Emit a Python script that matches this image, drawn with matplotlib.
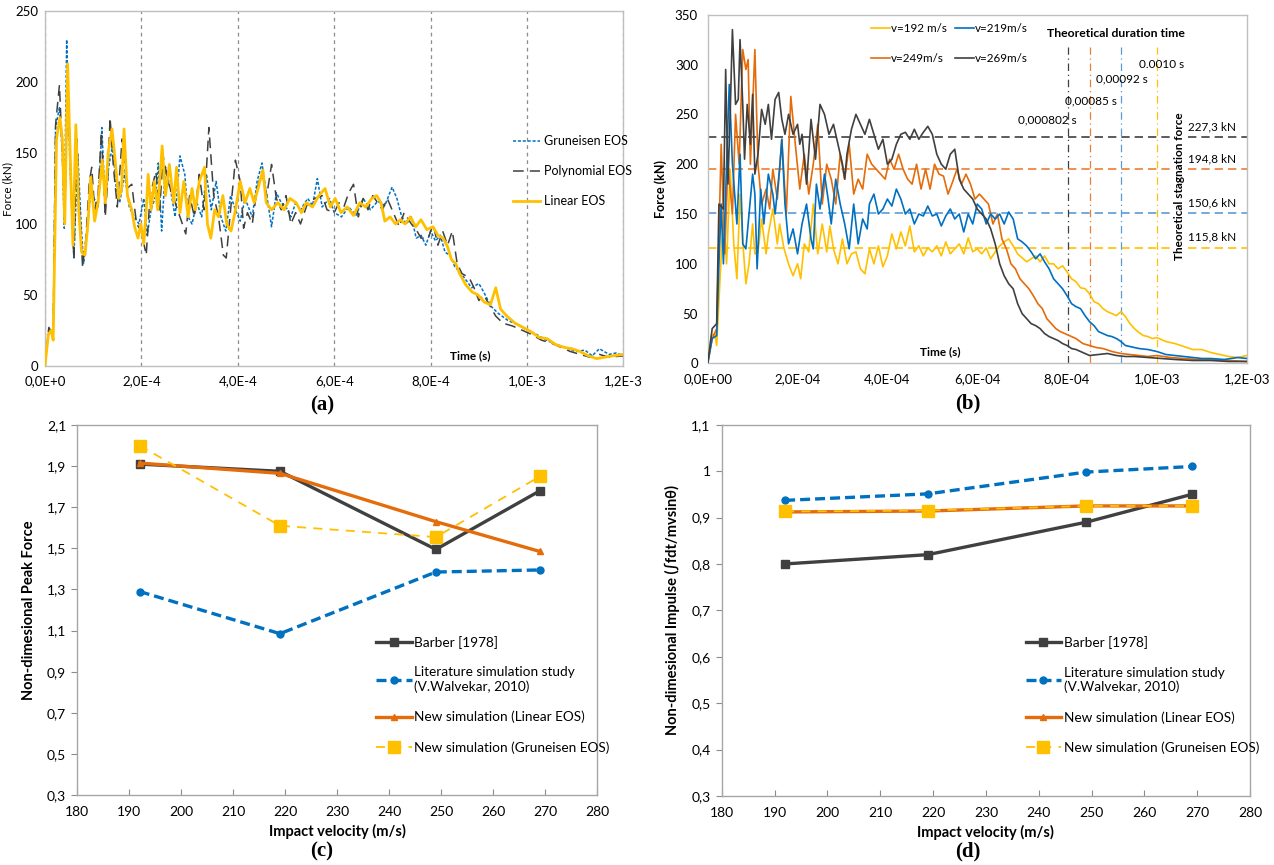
import numpy as np
import matplotlib
matplotlib.use("Agg")
import matplotlib.pyplot as plt
from matplotlib.patches import Rectangle

plt.rcParams['font.family'] = ['Lato', 'DejaVu Sans']

### Couleurs (type Excel)
c_yel = '#FFC000'
c_blu = '#0070C0'
c_ora = '#E46C0A'
c_blk = '#404040'

### (a) Force vs temps, 3 EOS  -- temps en 1e-4 s, force en kN
lin_a = [(0, 0), (0.07, 22), (0.13, 25), (0.17, 18), (0.24, 160), (0.31, 175), (0.36, 160), (0.41, 100),
         (0.47, 213), (0.53, 140), (0.58, 85), (0.64, 170), (0.70, 110), (0.76, 80), (0.83, 78), (0.89, 100),
         (0.95, 133), (1.03, 102), (1.10, 115), (1.19, 145), (1.25, 115), (1.31, 150), (1.39, 167), (1.47, 140),
         (1.53, 118), (1.59, 125), (1.64, 167), (1.71, 120), (1.80, 110), (1.86, 98), (1.93, 90), (1.99, 100),
         (2.05, 86), (2.10, 110), (2.14, 135), (2.20, 110), (2.27, 130), (2.34, 110), (2.43, 155), (2.50, 120),
         (2.58, 142), (2.67, 115), (2.73, 140), (2.80, 108), (2.88, 130), (2.97, 105), (3.05, 125), (3.12, 110),
         (3.20, 130), (3.31, 140), (3.37, 100), (3.44, 90), (3.52, 110), (3.60, 105), (3.69, 120), (3.77, 100),
         (3.86, 95), (3.94, 108), (4.05, 130), (4.15, 115), (4.25, 125), (4.34, 115), (4.42, 125), (4.52, 138),
         (4.59, 115), (4.70, 110), (4.83, 115), (4.96, 110), (5.08, 118), (5.21, 115), (5.32, 108), (5.42, 115),
         (5.55, 112), (5.68, 120), (5.81, 125), (5.92, 112), (6.02, 118), (6.14, 108), (6.27, 112), (6.40, 106),
         (6.53, 115), (6.65, 112), (6.78, 118), (6.88, 120), (6.97, 115), (7.05, 102), (7.16, 105), (7.27, 100),
         (7.37, 103), (7.47, 100), (7.58, 105), (7.69, 98), (7.80, 103), (7.92, 96), (8.05, 98), (8.15, 92),
         (8.26, 90), (8.35, 84), (8.43, 75), (8.52, 72), (8.60, 65), (8.73, 57), (8.86, 52), (8.98, 50),
         (9.11, 45), (9.24, 43), (9.35, 55), (9.45, 40), (9.58, 35), (9.75, 30), (9.92, 27), (10.08, 24),
         (10.25, 20), (10.42, 19), (10.59, 15), (10.76, 13), (10.93, 12), (11.10, 10), (11.27, 7), (11.44, 5),
         (11.61, 6), (11.78, 7), (12.0, 8)]

poly_a = [(0, 0), (0.08, 27), (0.17, 22), (0.22, 170), (0.30, 198), (0.36, 150), (0.41, 100), (0.47, 200),
          (0.55, 120), (0.60, 75), (0.66, 160), (0.72, 110), (0.78, 70), (0.85, 90), (0.92, 130), (0.97, 140),
          (1.03, 110), (1.10, 120), (1.17, 165), (1.25, 105), (1.30, 130), (1.35, 175), (1.42, 140), (1.50, 112),
          (1.60, 160), (1.70, 125), (1.80, 128), (1.90, 100), (2.00, 95), (2.10, 78), (2.18, 120), (2.30, 137),
          (2.38, 110), (2.45, 148), (2.55, 130), (2.65, 120), (2.75, 110), (2.85, 100), (2.92, 93), (3.00, 120),
          (3.10, 105), (3.20, 135), (3.30, 110), (3.40, 168), (3.50, 120), (3.60, 105), (3.70, 78), (3.76, 76),
          (3.85, 110), (3.95, 145), (4.05, 130), (4.12, 97), (4.20, 108), (4.30, 100), (4.40, 125), (4.50, 137),
          (4.60, 120), (4.70, 142), (4.80, 118), (4.90, 110), (5.00, 120), (5.10, 100), (5.20, 108), (5.30, 100),
          (5.45, 115), (5.60, 118), (5.75, 120), (5.85, 110), (6.00, 108), (6.10, 115), (6.20, 112), (6.30, 122),
          (6.40, 128), (6.50, 105), (6.60, 118), (6.70, 110), (6.80, 120), (6.90, 115), (7.00, 110), (7.10, 118),
          (7.20, 110), (7.35, 98), (7.45, 108), (7.60, 100), (7.70, 96), (7.80, 90), (7.95, 90), (8.05, 100),
          (8.15, 85), (8.25, 95), (8.35, 85), (8.45, 95), (8.55, 72), (8.65, 65), (8.80, 62), (8.90, 55),
          (9.00, 46), (9.10, 50), (9.20, 44), (9.35, 35), (9.50, 30), (9.70, 28), (9.90, 25), (10.1, 22),
          (10.3, 18), (10.5, 16), (10.7, 13), (10.9, 10), (11.1, 8), (11.3, 6), (11.5, 8), (11.7, 6), (12.0, 7)]

grun_a = [(0, 0), (0.08, 26), (0.17, 20), (0.22, 168), (0.30, 182), (0.36, 150), (0.40, 97), (0.45, 230),
          (0.52, 140), (0.60, 76), (0.68, 150), (0.75, 100), (0.80, 72), (0.88, 95), (0.95, 125), (1.02, 118),
          (1.10, 112), (1.18, 168), (1.25, 112), (1.32, 140), (1.40, 155), (1.48, 125), (1.55, 115), (1.65, 135),
          (1.75, 112), (1.85, 105), (1.95, 100), (2.05, 118), (2.12, 92), (2.20, 110), (2.30, 120), (2.35, 143),
          (2.42, 95), (2.50, 140), (2.60, 125), (2.70, 105), (2.80, 148), (2.90, 135), (2.97, 105), (3.05, 100),
          (3.15, 115), (3.25, 105), (3.35, 135), (3.45, 110), (3.55, 130), (3.65, 105), (3.75, 95), (3.85, 120),
          (3.95, 110), (4.05, 102), (4.15, 118), (4.30, 105), (4.40, 130), (4.50, 143), (4.60, 120), (4.70, 98),
          (4.80, 122), (4.90, 115), (5.00, 112), (5.10, 105), (5.20, 115), (5.30, 110), (5.45, 118), (5.55, 113),
          (5.65, 132), (5.75, 112), (5.90, 118), (6.00, 108), (6.15, 105), (6.30, 112), (6.45, 106), (6.60, 118),
          (6.75, 110), (6.90, 116), (7.05, 113), (7.20, 126), (7.30, 118), (7.40, 105), (7.50, 100), (7.60, 105),
          (7.70, 90), (7.80, 92), (7.90, 85), (8.00, 95), (8.10, 88), (8.20, 92), (8.30, 80), (8.40, 78),
          (8.50, 70), (8.60, 66), (8.70, 62), (8.85, 55), (9.00, 58), (9.10, 52), (9.25, 42), (9.40, 37),
          (9.60, 32), (9.80, 29), (10.0, 25), (10.2, 22), (10.4, 18), (10.6, 15), (10.8, 13), (11.0, 10),
          (11.2, 11), (11.35, 7), (11.5, 12), (11.7, 8), (11.85, 9), (12.0, 7)]

### (b) Force vs temps pour 4 vitesses
v192 = [(0, 0), (0.08, 28), (0.16, 30), (0.20, 18), (0.28, 90), (0.35, 150), (0.42, 100), (0.50, 195),
        (0.58, 120), (0.65, 85), (0.72, 170), (0.80, 110), (0.85, 80), (0.92, 100), (1.00, 140), (1.05, 110),
        (1.12, 112), (1.20, 145), (1.30, 110), (1.35, 130), (1.45, 155), (1.55, 120), (1.60, 140), (1.70, 115),
        (1.80, 100), (1.90, 88), (2.00, 100), (2.07, 85), (2.15, 120), (2.25, 112), (2.35, 160), (2.45, 110),
        (2.55, 140), (2.65, 112), (2.72, 138), (2.80, 115), (2.90, 100), (3.00, 125), (3.10, 100), (3.20, 110),
        (3.30, 112), (3.40, 95), (3.50, 90), (3.60, 115), (3.70, 100), (3.80, 118), (3.90, 97), (4.00, 108),
        (4.10, 130), (4.20, 115), (4.30, 132), (4.40, 118), (4.50, 138), (4.60, 112), (4.70, 118), (4.80, 108),
        (4.90, 116), (5.00, 112), (5.10, 118), (5.20, 108), (5.30, 122), (5.40, 110), (5.50, 115), (5.60, 120),
        (5.70, 110), (5.80, 126), (5.90, 112), (6.00, 115), (6.10, 110), (6.20, 116), (6.30, 105), (6.40, 112),
        (6.50, 118), (6.60, 122), (6.70, 125), (6.80, 118), (6.90, 110), (7.00, 106), (7.10, 102), (7.20, 105),
        (7.30, 108), (7.40, 102), (7.50, 108), (7.60, 100), (7.70, 100), (7.80, 95), (7.90, 98), (8.00, 92),
        (8.10, 85), (8.20, 82), (8.30, 76), (8.40, 75), (8.50, 70), (8.60, 62), (8.70, 60), (8.80, 55),
        (8.90, 52), (9.00, 50), (9.10, 48), (9.20, 52), (9.30, 47), (9.40, 40), (9.50, 35), (9.60, 31),
        (9.70, 28), (9.80, 27), (9.90, 25), (10.0, 26), (10.2, 22), (10.4, 20), (10.6, 17), (10.8, 14),
        (11.0, 14), (11.2, 11), (11.4, 9), (11.6, 7), (11.8, 6), (12.0, 8)]

v219 = [(0, 0), (0.10, 25), (0.20, 28), (0.25, 100), (0.30, 160), (0.35, 100), (0.42, 200), (0.48, 280),
        (0.55, 200), (0.65, 140), (0.72, 210), (0.78, 120), (0.85, 115), (0.92, 150), (1.00, 190), (1.05, 170),
        (1.10, 95), (1.18, 175), (1.25, 140), (1.35, 190), (1.45, 170), (1.50, 150), (1.60, 195), (1.65, 225),
        (1.72, 160), (1.80, 120), (1.90, 135), (2.00, 110), (2.10, 140), (2.20, 160), (2.30, 125), (2.35, 115),
        (2.42, 180), (2.50, 155), (2.60, 190), (2.68, 165), (2.75, 140), (2.85, 185), (2.95, 160), (3.05, 140),
        (3.15, 115), (3.25, 160), (3.35, 120), (3.45, 145), (3.55, 135), (3.60, 160), (3.70, 170), (3.80, 150),
        (3.90, 155), (4.00, 165), (4.10, 158), (4.20, 175), (4.30, 165), (4.40, 150), (4.50, 155), (4.60, 140),
        (4.70, 150), (4.80, 148), (4.90, 158), (5.00, 148), (5.10, 150), (5.20, 138), (5.30, 148), (5.40, 155),
        (5.50, 145), (5.60, 150), (5.70, 132), (5.80, 150), (5.90, 140), (6.00, 160), (6.10, 155), (6.20, 140),
        (6.30, 150), (6.40, 145), (6.50, 150), (6.60, 140), (6.70, 152), (6.80, 145), (6.90, 125), (7.00, 122),
        (7.10, 118), (7.20, 112), (7.30, 105), (7.40, 110), (7.50, 102), (7.60, 95), (7.70, 85), (7.80, 80),
        (7.90, 75), (8.00, 68), (8.10, 60), (8.20, 57), (8.30, 55), (8.40, 48), (8.50, 42), (8.60, 38),
        (8.70, 32), (8.80, 30), (8.90, 28), (9.00, 27), (9.10, 25), (9.20, 22), (9.30, 18), (9.40, 17),
        (9.60, 15), (9.80, 14), (10.0, 12), (10.2, 9), (10.4, 8), (10.6, 7), (10.8, 6), (11.0, 5),
        (11.2, 5), (11.5, 4), (11.8, 6), (12.0, 5)]

v249 = [(0, 0), (0.10, 25), (0.20, 35), (0.30, 220), (0.38, 110), (0.45, 200), (0.55, 150), (0.62, 250),
        (0.70, 200), (0.78, 315), (0.85, 295), (0.90, 305), (0.95, 200), (1.05, 315), (1.12, 200), (1.20, 160),
        (1.30, 175), (1.38, 155), (1.45, 195), (1.55, 165), (1.65, 225), (1.75, 150), (1.85, 268), (1.95, 220),
        (2.05, 175), (2.15, 210), (2.25, 170), (2.35, 200), (2.45, 240), (2.55, 160), (2.65, 200), (2.75, 185),
        (2.85, 160), (2.95, 210), (3.05, 185), (3.15, 220), (3.25, 170), (3.35, 185), (3.45, 175), (3.55, 210),
        (3.65, 200), (3.75, 195), (3.85, 190), (3.95, 185), (4.05, 205), (4.15, 195), (4.25, 210), (4.35, 195),
        (4.45, 185), (4.55, 180), (4.65, 200), (4.75, 175), (4.85, 195), (4.95, 175), (5.05, 200), (5.15, 190),
        (5.25, 188), (5.35, 170), (5.45, 182), (5.55, 195), (5.65, 180), (5.75, 190), (5.85, 180), (5.95, 165),
        (6.05, 170), (6.15, 165), (6.25, 160), (6.35, 140), (6.45, 150), (6.55, 125), (6.65, 115), (6.75, 100),
        (6.85, 95), (6.95, 85), (7.05, 80), (7.15, 75), (7.25, 68), (7.35, 60), (7.45, 55), (7.55, 45),
        (7.65, 40), (7.75, 35), (7.85, 32), (7.95, 30), (8.05, 28), (8.20, 25), (8.35, 20), (8.50, 18),
        (8.65, 16), (8.80, 15), (9.00, 12), (9.20, 10), (9.40, 9), (9.60, 8), (9.80, 7), (10.0, 8),
        (10.3, 6), (10.6, 5), (10.9, 4), (11.2, 4), (11.6, 3), (12.0, 2)]

v269 = [(0, 0), (0.10, 35), (0.20, 40), (0.25, 160), (0.35, 155), (0.40, 295), (0.45, 180), (0.50, 250),
        (0.55, 335), (0.62, 260), (0.68, 265), (0.72, 325), (0.78, 260), (0.82, 205), (0.88, 260), (0.95, 220),
        (1.00, 270), (1.05, 190), (1.12, 210), (1.20, 255), (1.28, 240), (1.35, 260), (1.42, 225), (1.50, 265),
        (1.58, 272), (1.65, 245), (1.72, 230), (1.80, 250), (1.90, 230), (2.00, 240), (2.05, 220), (2.10, 230),
        (2.20, 180), (2.30, 245), (2.40, 205), (2.50, 260), (2.60, 250), (2.70, 230), (2.80, 240), (2.90, 220),
        (3.00, 200), (3.05, 185), (3.10, 210), (3.20, 235), (3.30, 250), (3.40, 240), (3.50, 230), (3.60, 245),
        (3.70, 230), (3.80, 215), (3.90, 225), (4.00, 200), (4.10, 205), (4.20, 220), (4.30, 230), (4.40, 232),
        (4.50, 225), (4.60, 235), (4.70, 225), (4.80, 232), (4.90, 238), (5.00, 230), (5.10, 210), (5.20, 200),
        (5.30, 195), (5.40, 210), (5.50, 215), (5.60, 185), (5.70, 175), (5.80, 170), (5.90, 165), (6.00, 155),
        (6.10, 150), (6.20, 145), (6.30, 135), (6.40, 120), (6.50, 100), (6.60, 88), (6.70, 80), (6.80, 75),
        (6.90, 60), (7.00, 50), (7.10, 45), (7.20, 40), (7.30, 38), (7.40, 35), (7.50, 30), (7.60, 27),
        (7.70, 25), (7.80, 23), (7.90, 20), (8.00, 18), (8.10, 15), (8.20, 14), (8.30, 12), (8.40, 10),
        (8.50, 8), (8.70, 9), (8.90, 10), (9.10, 8), (9.30, 7), (9.50, 7), (9.80, 6), (10.1, 5),
        (10.4, 4), (10.8, 3), (11.2, 3), (11.6, 2), (12.0, 2)]

# valeurs théoriques (b)
stag_force = [227.3, 194.8, 150.6, 115.8]
stag_labels = ['227,3 kN', '194,8 kN', '150,6 kN', '115,8 kN']
dur_time = [0.000802, 0.00085, 0.00092, 0.0010]
dur_labels = ['0,000802 s', '0,00085 s', '0,00092 s', '0.0010 s']
theo_cols = ['#404040', '#ED7D31', '#5B9BD5', '#FFC000']

### (c) et (d) grandeurs adimensionnelles
vel = [192, 219, 249, 269]
peak_barber = [1.91, 1.875, 1.495, 1.78]
peak_litt = [1.29, 1.085, 1.385, 1.395]
peak_lin = [1.915, 1.865, 1.63, 1.485]
peak_grun = [2.0, 1.61, 1.555, 1.85]

imp_barber = [0.80, 0.82, 0.89, 0.95]
imp_litt = [0.937, 0.951, 0.998, 1.01]
imp_lin = [0.912, 0.914, 0.925, 0.925]
imp_grun = [0.913, 0.915, 0.925, 0.925]


def xy(pairs):
    a = np.array(pairs, dtype=float)
    return a[:, 0] * 1e-4, a[:, 1]


def style_box(ax, col='#BFBFBF'):
    for s in ax.spines.values():
        s.set_color(col)
        s.set_linewidth(1.0)


fig = plt.figure(figsize=(12.74, 8.65), dpi=100)

ax_a = fig.add_axes([0.0353, 0.5772, 0.4541, 0.4097])
ax_b = fig.add_axes([0.5555, 0.5798, 0.4231, 0.4032])
ax_c = fig.add_axes([0.0607, 0.0809, 0.4079, 0.4277])
ax_d = fig.add_axes([0.5665, 0.0798, 0.4147, 0.4292])

time_ticks = [0, 2e-4, 4e-4, 6e-4, 8e-4, 1e-3, 1.2e-3]

### ---------- (a)
t, f = xy(grun_a)
ax_a.plot(t, f, color=c_blu, lw=1.1, ls=(0, (2, 1.2)), label='Gruneisen EOS', zorder=3)
t, f = xy(poly_a)
ax_a.plot(t, f, color=c_blk, lw=1.1, ls=(0, (7, 4)), label='Polynomial EOS', zorder=3)
t, f = xy(lin_a)
ax_a.plot(t, f, color=c_yel, lw=2.0, label='Linear EOS', zorder=4)
ax_a.set_xlim(0, 1.2e-3)
ax_a.set_ylim(0, 250)
ax_a.set_xticks(time_ticks)
ax_a.set_xticklabels(['0,0E+0', '2,0E-4', '4,0E-4', '6,0E-4', '8,0E-4', '1,0E-3', '1,2E-3'])
ax_a.set_yticks(range(0, 251, 50))
ax_a.tick_params(length=0, labelsize=9.5, pad=7)
ax_a.tick_params(axis='y', pad=5)
ax_a.grid(axis='x', color='#8C8C8C', ls=(0, (3, 3)), lw=0.9)
ax_a.set_axisbelow(True)
ax_a.add_patch(Rectangle((0.855, 0.09), 0.14, 0.57, transform=ax_a.transAxes,
                         facecolor='white', edgecolor='none', zorder=1))
ax_a.set_ylabel('Force (kN)', fontsize=8.5, labelpad=1)
ax_a.text(8.82e-4, 7, 'Time (s)', fontsize=8.5, fontweight='bold', ha='center', va='center')
ax_a.legend(loc='upper left', bbox_to_anchor=(0.80, 0.665), frameon=False, fontsize=9,
            handlelength=2.2, handletextpad=0.3, labelspacing=1.45, borderaxespad=0)
style_box(ax_a)

### ---------- (b)
for pairs, col, lab in [(v192, c_yel, 'v=192 m/s'), (v249, c_ora, 'v=249m/s'),
                        (v219, c_blu, 'v=219m/s'), (v269, c_blk, 'v=269m/s')]:
    t, f = xy(pairs)
    ax_b.plot(t, f, color=col, lw=1.2, label=lab, zorder=3)

for fs, col in zip(stag_force, theo_cols):
    ax_b.axhline(fs, color=col, lw=1.2, ls=(0, (5, 3)), zorder=2)
for td, col in zip(dur_time, theo_cols):
    ax_b.vlines(td, 0, 318, color=col, lw=0.9, ls=(0, (6, 3, 1, 3)), zorder=2)

wb = dict(facecolor='white', edgecolor='none', pad=1.5)
ax_b.text(9.08e-4, 331, 'Theoretical duration time', fontsize=8.8, fontweight='bold',
          ha='center', va='center', bbox=wb, zorder=5)
for x, y, s in zip([7.554e-4, 8.53e-4, 9.224e-4, 1.0114e-3], [244, 263, 286, 300], dur_labels):
    ax_b.text(x, y, s, fontsize=8.5, ha='center', va='center', zorder=5)
for y, s in zip([237, 205, 161, 127], stag_labels):
    ax_b.text(1.1225e-3, y, s, fontsize=8.5, ha='center', va='center', zorder=5)
ax_b.text(1.0493e-3, 178, 'Theoretical stagnation force', fontsize=8.5, fontweight='bold',
          rotation=90, ha='center', va='center', bbox=wb, zorder=5)
ax_b.text(5.17e-4, 11.5, 'Time (s)', fontsize=8.5, fontweight='bold', ha='center', va='center')

ax_b.set_xlim(0, 1.2e-3)
ax_b.set_ylim(0, 350)
ax_b.set_xticks(time_ticks)
ax_b.set_xticklabels(['0,0E+00', '2,0E-04', '4,0E-04', '6,0E-04', '8,0E-04', '1,0E-03', '1,2E-03'])
ax_b.set_yticks(range(0, 351, 50))
ax_b.tick_params(length=0, labelsize=9.5, pad=7)
ax_b.set_ylabel('Force (kN)', fontsize=9, fontweight='bold', labelpad=6)
ax_b.legend(loc='upper left', bbox_to_anchor=(0.295, 0.99), ncol=2, frameon=False, fontsize=8.4,
            handlelength=1.6, handletextpad=0.1, labelspacing=1.65, columnspacing=0.7, borderaxespad=0)
style_box(ax_b)


### ---------- (c) et (d)
def adim_plot(ax, barber, litt, lin, grun):
    ax.plot(vel, barber, color=c_blk, lw=2.4, marker='s', ms=6, label='Barber [1978]')
    ax.plot(vel, litt, color=c_blu, lw=2.4, ls=(0, (3, 1.5)), marker='o', ms=5,
            label='Literature simulation study\n(V.Walvekar, 2010)')
    ax.plot(vel, lin, color=c_ora, lw=2.4, marker='^', ms=5, label='New simulation (Linear EOS)')
    ax.plot(vel, grun, color=c_yel, lw=1.3, ls=(0, (5, 4)), marker='s', ms=9,
            label='New simulation (Gruneisen EOS)')
    ax.set_xlim(180, 280)
    ax.set_xticks(range(180, 281, 10))
    ax.tick_params(axis='x', direction='in', length=4, color='#8C8C8C', labelsize=10, pad=8)
    ax.tick_params(axis='y', direction='out', length=4, color='#8C8C8C', labelsize=10, pad=4)
    ax.set_xlabel('Impact velocity (m/s)', fontsize=10.5, fontweight='bold', labelpad=4)
    ax.legend(loc='upper left', bbox_to_anchor=(0.565, 0.445), frameon=False, fontsize=9.8,
              handlelength=2.6, handletextpad=0.2, labelspacing=1.3, borderaxespad=0)
    style_box(ax, '#A6A6A6')


adim_plot(ax_c, peak_barber, peak_litt, peak_lin, peak_grun)
ax_c.set_ylim(0.3, 2.1)
ax_c.set_yticks(np.arange(0.3, 2.11, 0.2))
ax_c.set_yticklabels([('%.1f' % v).replace('.', ',') for v in np.arange(0.3, 2.11, 0.2)])
ax_c.set_ylabel('Non-dimesional Peak Force', fontsize=10.5, fontweight='bold', labelpad=8)

adim_plot(ax_d, imp_barber, imp_litt, imp_lin, imp_grun)
ax_d.set_ylim(0.3, 1.1)
ax_d.set_yticks(np.arange(0.3, 1.11, 0.1))
ax_d.set_yticklabels(['0,3', '0,4', '0,5', '0,6', '0,7', '0,8', '0,9', '1', '1,1'])
ax_d.set_ylabel('Non-dimesional Impulse (∫fdt/mvsinθ)', fontsize=10.5, fontweight='bold', labelpad=8)

### Légendes (a)...(d)
for x, y, s in [(0.2527, 0.531, '(a)'), (0.7598, 0.533, '(b)'), (0.2527, 0.016, '(c)'), (0.7598, 0.016, '(d)')]:
    fig.text(x, y, s, fontsize=15, fontweight='bold', family='Liberation Serif', ha='center', va='center')

fig.savefig('out.png', dpi=100)
